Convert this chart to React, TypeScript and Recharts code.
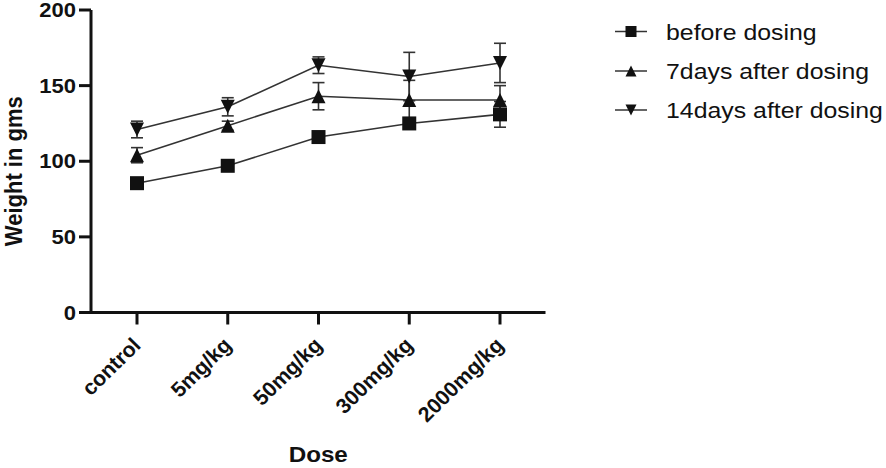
import React from 'react';
import { LineChart, Line, XAxis, YAxis, ErrorBar } from 'recharts';

const categories = ['control', '5mg/kg', '50mg/kg', '300mg/kg', '2000mg/kg'];
const beforeDosing = [85.5, 97, 116, 125, 131];
const beforeDosingErr = [2, 2, 3, 3, 8.5];
const after7Days = [104, 123.5, 143, 140.5, 140.5];
const after7DaysErr = [5, 3, 9, 13, 9.5];
const after14Days = [121, 136, 163.5, 156, 165];
const after14DaysErr = [5.5, 6, 5.5, 16, 13];
const yTicks = [0, 50, 100, 150, 200];

const seriesNames = ['before dosing', '7days after dosing', '14days after dosing'];
const seriesShapes = ['square', 'up', 'down'];

const data = categories.map((c, i) => ({
  name: c,
  b: beforeDosing[i],
  bErr: beforeDosingErr[i],
  a7: after7Days[i],
  a7Err: after7DaysErr[i],
  a14: after14Days[i],
  a14Err: after14DaysErr[i],
}));

const FONT = '"Liberation Sans", Arial, sans-serif';
const INK = '#111';
const LINE = '#333';

function STxt(props: any) {
  const { x, y, rot = 0, sx = 1.1, anchor = 'start', size, weight = 'normal', children } = props;
  return (
    <text
      transform={`translate(${x},${y}) scale(${sx},1) rotate(${rot})`}
      textAnchor={anchor}
      fontSize={size}
      fontWeight={weight}
      fontFamily={FONT}
      fill={INK}
    >
      {children}
    </text>
  );
}

function Marker(props: any) {
  const { cx, cy, shape, s } = props;
  if (cx == null || cy == null) return null;
  const h = s / 2;
  if (shape === 'square') {
    return <rect x={cx - h} y={cy - h} width={s} height={s} fill={INK} />;
  }
  if (shape === 'up') {
    return <polygon points={`${cx},${cy - h} ${cx + h},${cy + h} ${cx - h},${cy + h}`} fill={INK} />;
  }
  return <polygon points={`${cx - h},${cy - h} ${cx + h},${cy - h} ${cx},${cy + h}`} fill={INK} />;
}

const makeDot = (shape: string, s: number) => (p: any) => (
  <Marker key={`${shape}-${p.index}`} cx={p.cx} cy={p.cy} shape={shape} s={s} />
);

function XTick(props: any) {
  const { x, y, payload } = props;
  return (
    <STxt x={x + 5} y={y + 22} rot={-45} sx={1.02} anchor="end" size={21} weight="bold">
      {payload.value}
    </STxt>
  );
}

function YTick(props: any) {
  const { x, y, payload } = props;
  return <STxt x={x} y={y + 7} anchor="end" size={20} weight="bold">{payload.value}</STxt>;
}

function Legend() {
  const rows = [31.5, 71, 110];
  return (
    <svg width={886} height={468} style={{ position: 'absolute', left: 0, top: 0, pointerEvents: 'none' }}>
      {seriesNames.map((n, i) => (
        <g key={n}>
          <line x1={615} x2={647} y1={rows[i]} y2={rows[i]} stroke={LINE} strokeWidth={1.5} />
          <Marker cx={631} cy={rows[i]} shape={seriesShapes[i]} s={11} />
          <STxt x={666} y={rows[i] + 8} sx={1.13} size={22}>{n}</STxt>
        </g>
      ))}
    </svg>
  );
}

export default function App() {
  return (
    <div style={{ position: 'absolute', left: 0, top: 0, width: 886, height: 468, background: '#fff' }}>
      <LineChart
        width={886}
        height={468}
        data={data}
        margin={{ top: 10, right: 340.5, bottom: 0, left: 0 }}
      >
        <XAxis
          dataKey="name"
          height={155.5}
          padding={{ left: 46, right: 45.5 }}
          axisLine={{ stroke: INK, strokeWidth: 3 }}
          tickLine={{ stroke: INK, strokeWidth: 3 }}
          tickSize={12}
          tickMargin={0}
          interval={0}
          tick={<XTick />}
          label={{
            content: (p: any) => {
              const vb = p.viewBox;
              return <STxt x={vb.x + vb.width / 2} y={462} anchor="middle" size={22} weight="bold">Dose</STxt>;
            },
          }}
        />
        <YAxis
          width={91}
          domain={[0, 200]}
          ticks={yTicks}
          interval={0}
          axisLine={{ stroke: INK, strokeWidth: 3 }}
          tickLine={{ stroke: INK, strokeWidth: 3 }}
          tickSize={12}
          tickMargin={3}
          tick={<YTick />}
          label={{
            content: (p: any) => {
              const vb = p.viewBox;
              return (
                <STxt x={21.5} y={vb.y + vb.height / 2 + 10} rot={-90} anchor="middle" size={22} weight="bold">
                  Weight in gms
                </STxt>
              );
            },
          }}
        />
        <Line dataKey="b" stroke={LINE} strokeWidth={1.6} dot={makeDot('square', 14)} activeDot={false} isAnimationActive={false}>
          <ErrorBar dataKey="bErr" width={6} stroke={LINE} strokeWidth={1.6} direction="y" />
        </Line>
        <Line dataKey="a7" stroke={LINE} strokeWidth={1.6} dot={makeDot('up', 14)} activeDot={false} isAnimationActive={false}>
          <ErrorBar dataKey="a7Err" width={6} stroke={LINE} strokeWidth={1.6} direction="y" />
        </Line>
        <Line dataKey="a14" stroke={LINE} strokeWidth={1.6} dot={makeDot('down', 14)} activeDot={false} isAnimationActive={false}>
          <ErrorBar dataKey="a14Err" width={6} stroke={LINE} strokeWidth={1.6} direction="y" />
        </Line>
      </LineChart>
      <Legend />
    </div>
  );
}
